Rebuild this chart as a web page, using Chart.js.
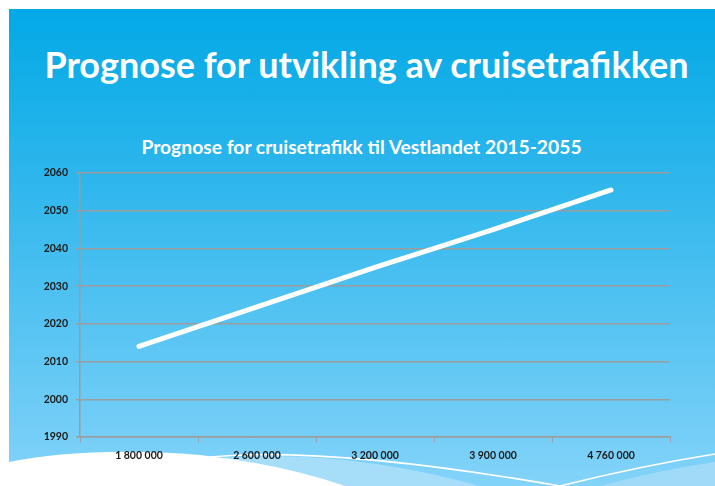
<!DOCTYPE html>
<html>
<head>
<meta charset="utf-8">
<script src="https://cdn.jsdelivr.net/npm/chart.js@4"></script>
<style>
  body { margin: 0; background: #fff; }
  #slide {
    position: absolute; left: 9px; top: 9px; width: 706px; height: 477px;
    background: linear-gradient(to bottom, #02a9e6 0%, #2db6ec 35%, #83d3f9 100%);
    overflow: hidden;
  }
  #waves { position: absolute; left: 0; top: 0; }
  #heading {
    position: absolute; left: 0; top: 42px; width: 733px; text-align: center;
    color: #fff; font-family: Lato, sans-serif; font-weight: bold; font-size: 36px;
    margin: 0;
  }
  #chart-title {
    position: absolute; left: 0; top: 135px; width: 723px; text-align: center;
    color: #fff; font-family: Lato, sans-serif; font-weight: bold; font-size: 19.3px;
    line-height: 24px;
  }
  #chart { position: absolute; left: 0; top: 0; }
</style>
</head>
<body>
<div id="slide"></div>
<svg id="waves" width="715" height="486">
  <path d="M200 460 Q330 445 480 486 L200 486 Z" fill="#a6defa"/>
  <path d="M600 486 Q660 470 715 462 L715 486 Z" fill="#9fdbf8"/>
  <path d="M210 457 Q330 446 560 486" stroke="#fff" stroke-width="1.6" fill="none"/>
  <path d="M560 486 Q640 466 715 454" stroke="#fff" stroke-width="1.6" fill="none"/>
  <path d="M9 462 Q90 446 200 455 Q280 464 345 486 L9 486 Z" fill="#fff"/>
</svg>
<h1 id="heading">Prognose for utvikling av cruisetrafikken</h1>
<div id="chart-title"></div>
<canvas id="chart" width="715" height="486"></canvas>
<script>
'use strict';

// ***** DATA *****
let passengers = ['1 800 000', '2 600 000', '3 200 000', '3 900 000', '4 760 000'];
let years = [2014, 2024.5, 2035, 2045, 2055.5];
let yearTicks = [1990, 2000, 2010, 2020, 2030, 2040, 2050, 2060];

let chartTitle = 'Prognose for cruisetrafikk til Vestlandet 2015-2055';

// ***** CHART *****
document.getElementById('chart-title').textContent = chartTitle;

const canvasElem = document.getElementById('chart');
const axisGrey = '#9c9c9c';
const tickFont = { family: 'Lato, sans-serif', size: 10.5, weight: 'bold' };

let chartObj = {
  type: 'line',
  data: {
    labels: passengers,
    datasets: [{
      data: years,
      borderColor: '#ffffff',
      borderWidth: 5,
      borderCapStyle: 'round',
      pointRadius: 0,
      tension: 0
    }]
  },
  options: {
    responsive: false,
    animation: false,
    layout: { padding: { top: 173, right: 45, left: 0, bottom: 0 } },
    plugins: {
      legend: { display: false },
      tooltip: { enabled: false },
      title: { display: false }
    },
    scales: {
      x: {
        offset: true,
        grid: { display: true, drawOnChartArea: false, offset: true, color: axisGrey, tickLength: 5 },
        border: { color: axisGrey, width: 1.5 },
        ticks: { color: '#1a1a1a', font: tickFont, padding: 7, maxRotation: 0 },
        afterFit: function(scale) { scale.height = 49; }
      },
      y: {
        min: 1990,
        max: 2060,
        afterBuildTicks: function(scale) { scale.ticks = yearTicks.map(v => ({ value: v })); },
        grid: { color: axisGrey, lineWidth: 1.5, tickLength: 4 },
        border: { color: axisGrey, width: 1.5 },
        ticks: { color: '#1a1a1a', font: tickFont, padding: 8, callback: v => String(v) },
        afterFit: function(scale) { scale.width = 80; }
      }
    }
  }
};

new Chart(canvasElem, chartObj);
</script>
</body>
</html>
